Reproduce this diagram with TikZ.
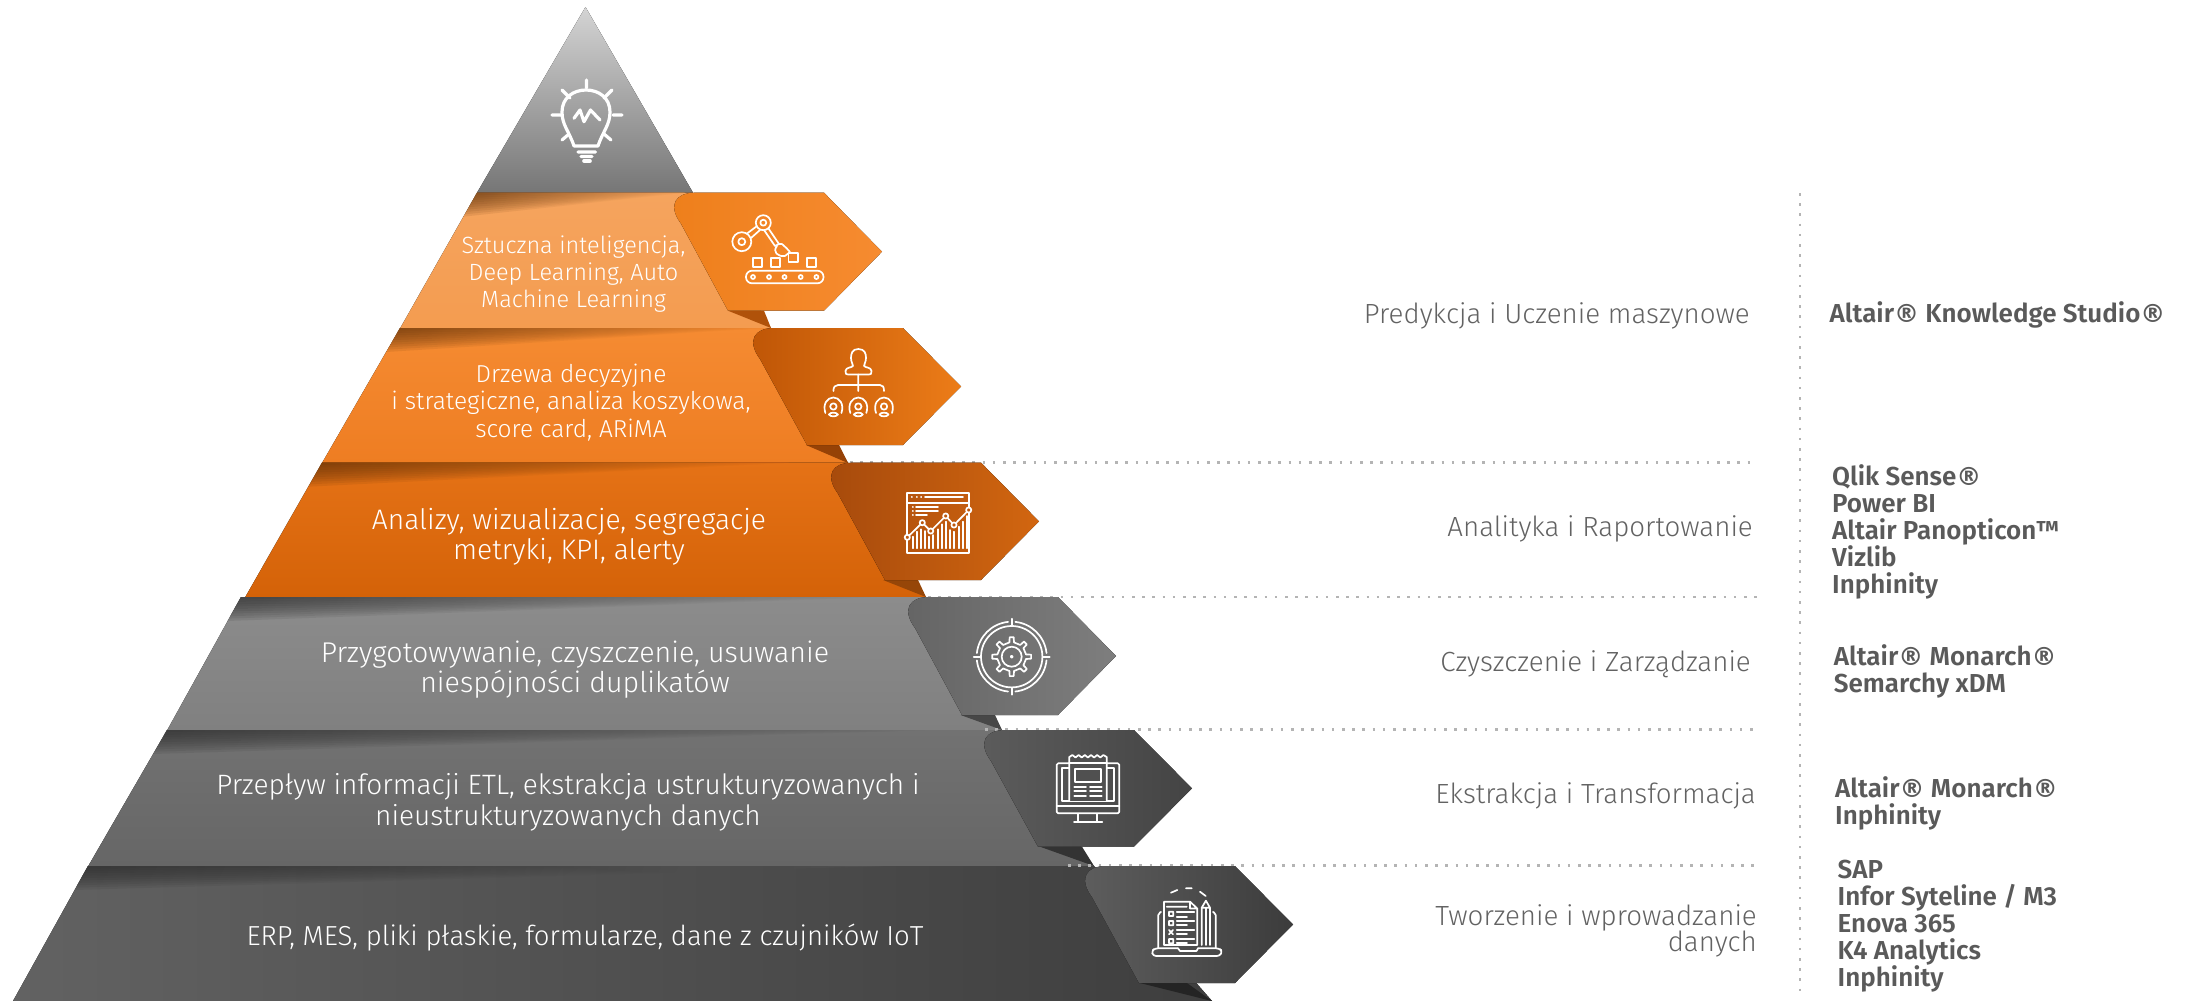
\documentclass[tikz,border=0pt]{standalone}
\usepackage{fontspec}
\setmainfont{Fira Sans Light}
\newfontfamily\boldf{Fira Sans SemiBold}
\newfontfamily\regf{DejaVu Sans Bold}
\newcommand{\Rg}{{\regf\fontsize{25}{25}\selectfont ®}}
\definecolor{txtgray}{HTML}{626262}
\definecolor{boldgray}{HTML}{5A5A5A}
\definecolor{dotgray}{HTML}{B4B4B4}
\definecolor{brownsh}{HTML}{5A2E08}
\definecolor{graysh}{HTML}{2A2A2A}
\definecolor{apexT}{HTML}{D4D4D4}\definecolor{apexB}{HTML}{767676}
\definecolor{bA}{HTML}{F5A45E}\definecolor{bAb}{HTML}{F49C50}
\definecolor{bB}{HTML}{F58B32}\definecolor{bBb}{HTML}{EE7D22}
\definecolor{bC}{HTML}{E57216}\definecolor{bCb}{HTML}{D46208}
\definecolor{bD}{HTML}{8C8C8C}\definecolor{bDb}{HTML}{808080}
\definecolor{bE}{HTML}{727272}\definecolor{bEb}{HTML}{666666}
\definecolor{bF}{HTML}{626262}\definecolor{bFb}{HTML}{3E3E3E}
\definecolor{tailA}{HTML}{B0520A}\definecolor{tailB}{HTML}{964206}\definecolor{tailC}{HTML}{964608}
\definecolor{hA}{HTML}{EE7F1B}\definecolor{hAb}{HTML}{F68B30}
\definecolor{hB}{HTML}{BE5506}\definecolor{hBb}{HTML}{EC7C18}
\definecolor{hC}{HTML}{A64A0C}\definecolor{hCb}{HTML}{D26610}
\definecolor{hD}{HTML}{646464}\definecolor{hDb}{HTML}{7E7E7E}
\definecolor{hE}{HTML}{5C5C5C}\definecolor{hEb}{HTML}{444444}
\definecolor{hF}{HTML}{5E5E5E}\definecolor{hFb}{HTML}{3C3C3C}
\newcommand{\fs}[2]{\fontsize{#1}{#2}\selectfont}
% wedge of shade along a band's top edge: xl, ytop, xr, shade colour, band colour
\newcommand{\wedgeshade}[5]{%
  \foreach \k in {1,...,10}{
    \shade[left color=#4,right color=#5,opacity=.11] (#1,#2) -- (#3,#2) -- ({#1-.576*2.4*\k},{#2+2.4*\k}) -- cycle;
  }}
% arrow hexagon: L, top, bottom, left colour, right colour
\newcommand{\hexa}[5]{%
  \fill[left color=#4,right color=#5]
   ({#1+22},#2) -- ({#1+151},#2) -- ({#1+209},{(#2+#3)/2}) -- ({#1+151},#3) -- ({#1+55},#3) -- ({#1+8},{#2+31})
   .. controls ({#1-6},{#2+12}) and ({#1+3},#2) .. ({#1+22},#2) -- cycle;}
\tikzset{
  bandtext/.style={text=white,align=center,inner sep=0pt},
  lab/.style={text=txtgray,align=right,inner sep=0pt,anchor=east,font=\fs{27.7}{26.5}},
  tool/.style={text=boldgray,align=left,inner sep=0pt,anchor=west,font=\boldf\fs{26}{27}},
  icon/.style={draw=white,line width=3.2pt,line join=round,line cap=round},
  icont/.style={draw=white,line width=1.7pt,line join=round,line cap=round},
  dotline/.style={draw=dotgray,line width=2.6pt,dash pattern=on 2.6pt off 7.6pt},
}
\begin{document}
\begin{tikzpicture}[x=1pt,y=-1pt]
\useasboundingbox (0,0) rectangle (2188,1001);
% apex
\fill[top color=apexT,bottom color=apexB] (585.5,7) -- (693,192.7) -- (477,192.7) -- cycle;
% bands
\fill[top color=bA,bottom color=bAb] (477,192.7) -- (693,192.7) -- (771,328.5) -- (400,328.5) -- cycle;
\wedgeshade{477}{192.7}{685}{brownsh}{bA}
\fill[top color=bB,bottom color=bBb] (400,328) -- (771,328) -- (848,463) -- (322,463) -- cycle;
\wedgeshade{400}{328}{765}{brownsh}{bB}
\fill[top color=bC,bottom color=bCb] (322,462.7) -- (848,462.7) -- (926,597.5) -- (245,597.5) -- cycle;
\wedgeshade{322}{462.7}{790}{brownsh}{bC}
\fill[top color=bD,bottom color=bDb] (241,597) -- (926,597) -- (1002,730.5) -- (167,730.5) -- cycle;
\wedgeshade{241}{597}{880}{graysh}{bD}
\fill[top color=bE,bottom color=bEb] (167,730) -- (1002,730) -- (1094,866.5) -- (88,866.5) -- cycle;
\wedgeshade{167}{730}{930}{graysh}{bE}
\fill[left color=bF,right color=bFb] (88,866) -- (1094,866) -- (1212,1001) -- (13,1001) -- cycle;
\wedgeshade{88}{866}{900}{graysh}{bF!80!bFb}
% shadow tails
\fill[tailA] (728,310.7) -- (764,310.7) -- (771,328) -- cycle;
\fill[tailB] (806,445) -- (839,445) -- (848,463) -- cycle;
\fill[tailC] (883,580) -- (918,580) -- (926,597) -- cycle;
\fill[black!72] (960.6,715) -- (995,715) -- (1002,730) -- cycle;
\fill[black!80] (1040,846.7) -- (1082,846.7) -- (1094,866) -- cycle;
\fill[black!86] (1140,983) -- (1187,983) -- (1212,1001) -- cycle;
% dotted guides
\coordinate (v1) at (1800,193); \coordinate (v2) at (1800,995);
\draw[dotline] (v1) -- (v2);
\coordinate (h1a) at (850,462.7); \coordinate (h1b) at (1757,462.7);
\coordinate (h2a) at (928,597);   \coordinate (h2b) at (1757,597);
\coordinate (h3a) at (985,729.5); \coordinate (h3b) at (1757,729.5);
\coordinate (h4a) at (1068,865.5);\coordinate (h4b) at (1757,865.5);
\draw[dotline] (h1a) -- (h1b);
\draw[dotline] (h2a) -- (h2b);
\draw[dotline] (h3a) -- (h3b);
\draw[dotline] (h4a) -- (h4b);
% hexagons
\hexa{673}{192.7}{310.7}{hA}{hAb}
\hexa{752}{328}{445}{hB}{hBb}
\hexa{830}{462.7}{580}{hC}{hCb}
\hexa{907}{597}{715}{hD}{hDb}
\hexa{983}{730}{846.7}{hE}{hEb}
\hexa{1084}{866}{983}{hF}{hFb}
% band texts
\node[bandtext,font=\fs{23.5}{27}] (t1) at (573.5,274.5) {Sztuczna inteligencja,\\Deep Learning, Auto\\Machine Learning};
\node[bandtext,font=\fs{24.5}{27.3}] (t2) at (571,402.5) {Drzewa decyzyjne\\i strategiczne, analiza koszykowa,\\score card, ARiMA};
\node[bandtext,font=\fs{28.2}{30}] (t3) at (569,536.5) {Analizy, wizualizacje, segregacje\\metryki, KPI, alerty};
\node[bandtext,font=\fs{28.6}{30.5}] (t4) at (575,669.5) {Przygotowywanie, czyszczenie, usuwanie\\niespójności duplikatów};
\node[bandtext,font=\fs{28}{31}] (t5) at (568,802) {Przepływ informacji ETL, ekstrakcja ustrukturyzowanych i\\nieustrukturyzowanych danych};
\node[bandtext,font=\fs{27.5}{31}] (t6) at (585,937.5) {ERP, MES, pliki płaskie, formularze, dane z czujników IoT};
% right labels
\node[lab] (l1) at (1750,316) {Predykcja i Uczenie maszynowe};
\node[lab] (l2) at (1753,529) {Analityka i Raportowanie};
\node[lab] (l3) at (1751,664) {Czyszczenie i Zarządzanie};
\node[lab] (l4) at (1756,795.5) {Ekstrakcja i Transformacja};
\node[lab] (l5) at (1757,931) {Tworzenie i wprowadzanie\\danych};
% tools
\node[tool] (s1) at (1829.5,315) {Altair\Rg{} Knowledge Studio\Rg};
\node[tool] (s2) at (1832,532) {Qlik Sense\Rg\\Power BI\\Altair Panopticon™\\Vizlib\\Inphinity};
\node[tool] (s3) at (1833.7,671) {Altair\Rg{} Monarch\Rg\\Semarchy xDM};
\node[tool] (s4) at (1835,803) {Altair\Rg{} Monarch\Rg\\Inphinity};
\node[tool] (s5) at (1837.5,926) {SAP\\Infor Syteline / M3\\Enova 365\\K4 Analytics\\Inphinity};
% --- bulb icon
\draw[icon] (574,146) .. controls (569,131) and (562,125) .. (562,112) .. controls (562,98) and (573,90) .. (586,90) .. controls (599,90) and (610,98) .. (610,112) .. controls (610,125) and (603,131) .. (598,146) -- cycle;
\draw[icon] (586.5,80) -- (586.5,88) (552,115) -- (561,115) (613,115) -- (622,115)
  (562,90) -- (570,98) (612,90) -- (604,98) (562,140) -- (569,134) (611,140) -- (604,134)
  (578,152) -- (595.5,152) (581,156.5) -- (592,156.5);
\draw[icon,line width=3.6pt] (584,161) -- (590,161);
\draw[icon] (574,118.3) -- (580,110) -- (584,121.7) -- (590.5,110) -- (600,120);
% --- robot arm icon
\draw[icont,rounded corners=6pt] (746,270.7) rectangle (823.5,283.3);
\foreach \x in {753,769,784.5,800.7,816.4}{\draw[icont] (\x,277) circle[radius=2];}
\draw[icont] (753,258) rectangle (762,266.7) (771,258) rectangle (780,266.7) (788.6,253) rectangle (797.8,262) (807,258) rectangle (816,266.7);
\draw[icont] (741.8,241.7) circle[radius=9.5] (741.8,241.7) circle[radius=3.5] (763.3,222.7) circle[radius=7.5] (763.3,222.7) circle[radius=3];
\draw[icont] (747,233.5) -- (757,226) (751,238) -- (760,230)
  (768.5,228.5) -- (779,244) (764,230) -- (775,246)
  (775,246) -- (779,244) (777,246) .. controls (772,252) and (778,257) .. (785,256) (782,244) .. controls (785,247) and (788,249) .. (790,252) (785,256) -- (790,252) (779,244) -- (782,244);
% --- org icon
\draw[icont] (858.3,349) .. controls (852,349) and (851,354) .. (851,358) .. controls (851,362) and (853,364) .. (853,366) .. controls (851,368) and (846,367) .. (845.5,371) .. controls (845.5,374) and (846,374.5) .. (848,374.5) -- (869,374.5) .. controls (871,374.5) and (871.5,374) .. (871.5,371) .. controls (871,367) and (866,368) .. (864,366) .. controls (864,364) and (866,362) .. (866,358) .. controls (866,354) and (865,349) .. (858.3,349) -- cycle;
\draw[icont] (858.3,374.5) -- (858.3,391) (833.4,391) .. controls (833.4,387) and (835,385) .. (838,385) -- (880,385) .. controls (883,385) and (884,387) .. (884,391);
\foreach \x in {833.4,858.3,884}{
  \draw[icont] (\x,406.5) circle[radius=3.2] ({\x-4.5},414.5) .. controls ({\x-3},412) and ({\x+3},412) .. ({\x+4.5},414.5) .. controls ({\x+3},417) and ({\x-3},417) .. ({\x-4.5},414.5) -- cycle;
  \draw[icont] ({\x-8},413) .. controls ({\x-11},404) and ({\x-6},397.5) .. (\x,397.5) .. controls ({\x+6},397.5) and ({\x+11},404) .. ({\x+8},413);
}
% --- chart icon
\draw[icont] (906.7,492.7) rectangle (969.3,552.7) (906.7,502.7) -- (969.3,502.7);
\draw[icont] (911.7,497.3) -- (912,497.3) (916.7,497.3) -- (917,497.3) (921,497.3) -- (921.3,497.3) (925,497.3) -- (963,497.3)
  (912.7,506.7) -- (913,506.7) (916,506.7) -- (938,506.7) (912.7,511) -- (913,511) (916,511) -- (938,511) (912.7,515) -- (913,515) (916,515) -- (927,515);
\foreach \x/\t in {38/170,50/155,62/148,75/153,88/170,100/165,113/148,126/133,138/125,151/150,163/155,176/140,188/125,200/108}{
  \draw[icont] ({900+\x/3},{480+\t/3}) -- ({900+\x/3},548.3);
}
\draw[icont] (907.3,537.3) -- (922.3,522.7) -- (930.7,531) -- (945.7,516) -- (954,525) -- (968.7,510);
\foreach \p in {(907.3,537.3),(922.3,522.7),(930.7,531),(945.7,516),(954,525),(968.7,510)}{
  \draw[icont,fill=hC!50!hCb] \p circle[radius=2.6];
}
% --- gear icon
\begin{scope}[shift={(1011.7,656.7)}]
\draw[icont] (0,0) circle[radius=30.7];
\foreach \a in {0,90,180,270}{
  \draw[icont] (\a+6:35) arc[start angle=\a+6,end angle=\a+84,radius=35];
  \draw[icont] (\a:30.7) -- (\a:38);
}
\draw[icont] (0,0) circle[radius=10] (0,0) circle[radius=1];
\draw[icont] (-9:14.5) -- (-6:19.5) -- (6:19.5) -- (9:14.5) -- (36:14.5) -- (39:19.5) -- (51:19.5) -- (54:14.5)
  -- (81:14.5) -- (84:19.5) -- (96:19.5) -- (99:14.5) -- (126:14.5) -- (129:19.5) -- (141:19.5) -- (144:14.5)
  -- (171:14.5) -- (174:19.5) -- (186:19.5) -- (189:14.5) -- (216:14.5) -- (219:19.5) -- (231:19.5) -- (234:14.5)
  -- (261:14.5) -- (264:19.5) -- (276:19.5) -- (279:14.5) -- (306:14.5) -- (309:19.5) -- (321:19.5) -- (324:14.5) -- cycle;
\end{scope}
% --- monitor icon
\draw[icont,rounded corners=1.5pt] (1056.7,763.3) rectangle (1119.3,813.3);
\draw[icont] (1056.7,805.7) -- (1119.3,805.7);
\draw[icont] (1061.7,768.3) rectangle (1114,801);
\fill[hE!50!hEb] (1069.3,757) rectangle (1106.7,801);
\draw[icont] (1069.3,801) -- (1069.3,757) -- (1072.4,755) -- (1075.5,757.5) -- (1078.6,755) -- (1081.7,757.5) -- (1084.8,755) -- (1087.9,757.5) -- (1091,755) -- (1094.1,757.5) -- (1097.2,755) -- (1100.3,757.5) -- (1103.4,755) -- (1106.7,757) -- (1106.7,801);
\draw[icont] (1069.3,763.3) -- (1106.7,763.3) (1075,769.3) rectangle (1101,781.7);
\foreach \y in {786.7,791,795.7}{\draw[icont] (1074.3,\y) -- (1086,\y) (1090,\y) -- (1101.7,\y);}
\draw[icont] (1078.3,814) -- (1078.3,822) (1097.3,814) -- (1097.3,822) (1074,822.3) -- (1102.3,822.3);
% --- form icon
\draw[icont,rounded corners=2pt] (1158.3,948) -- (1158.3,913) -- (1161,912);
\draw[icont,rounded corners=2pt] (1215.7,948) -- (1215.7,913) -- (1213,912);
\draw[icont,rounded corners=3pt] (1178,948.3) -- (1155,948.3) -- (1151.7,951) -- (1153,956) -- (1220,956) -- (1222.3,951) -- (1219,948.3) -- (1198,948.3);
\draw[icont] (1178,948.3) -- (1180,951) -- (1196.5,951) -- (1198,948.3);
\draw[icont] (1164,945) -- (1164,901.7) -- (1190,901.7) -- (1197.3,908.5) -- (1197.3,945) -- cycle (1190,901.7) -- (1190,908.5) -- (1197.3,908.5);
\draw[icont] (1201.7,945) -- (1201.7,907.7) -- (1205.9,900.7) -- (1210,907.7) -- (1210,945) (1201.7,907.7) -- (1210,907.7) (1205.9,907.7) -- (1205.9,945);
\draw[icont] (1171,892.7) -- (1177.3,890) (1186,888.3) -- (1191.7,888.3) (1200,891.7) -- (1205.7,896) (1166.7,906.7) -- (1186.7,906.7);
\draw[icont] (1169,911.7) rectangle (1173.3,916) (1169,921) rectangle (1173.3,925.3) (1169,939) rectangle (1173.3,943.3)
  (1169,930) -- (1173,934.3) (1173,930) -- (1169,934.3);
\foreach \y/\e in {912.3/1194.3,916.7/1187,921/1194.3,925/1187,930/1194.3,934.3/1187,939/1194.3,943.3/1187}{\draw[icont] (1176.7,\y) -- (\e,\y);}
\end{tikzpicture}
\end{document}
